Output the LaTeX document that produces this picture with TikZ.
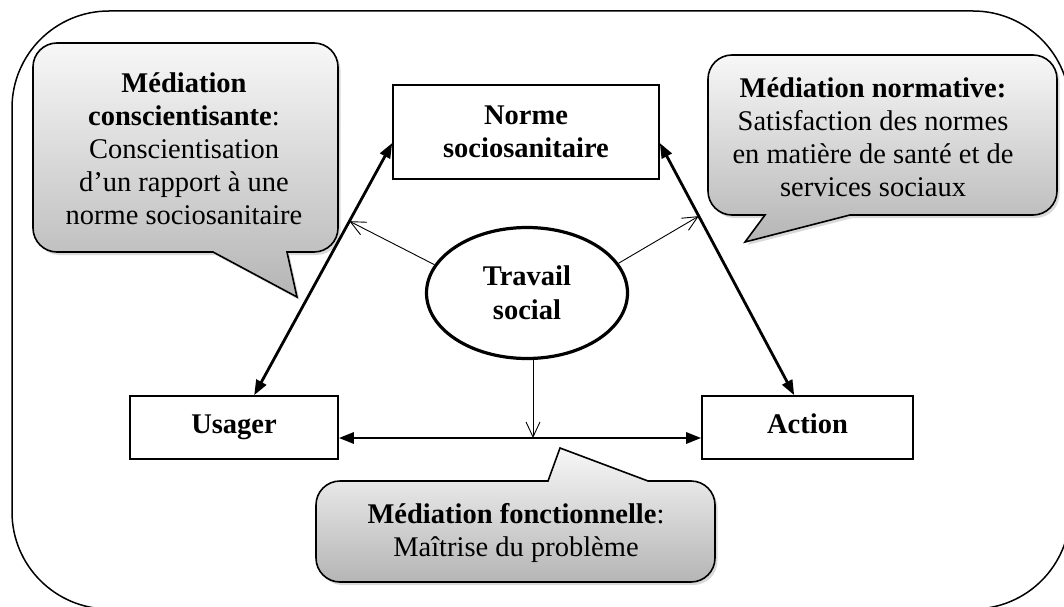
\documentclass[tikz,border=0pt]{standalone}
\usepackage{fontspec}
\setmainfont{Liberation Serif}
\usetikzlibrary{arrows.meta,calc,shadows,shapes.geometric}

\tikzset{
  txt/.style={font=\fontsize{28.5}{33}\selectfont, align=center, inner sep=0pt},
  conceptbox/.style={draw, line width=1.6pt, fill=white, inner sep=0pt,
    font=\fontsize{28.5}{33}\selectfont\bfseries, align=center},
  onelinebox/.style={conceptbox, text height=19pt, text depth=8pt},
  hub/.style={ellipse, draw, line width=3.2pt, fill=white, inner sep=0pt,
    font=\fontsize{28.5}{34}\selectfont\bfseries, align=center},
  bubble/.style={line width=1.6pt, top color=gray!6, bottom color=gray!58,
    drop shadow={shadow xshift=2.5pt, shadow yshift=-3pt, opacity=.3}},
  link/.style={line width=2.8pt, {Triangle[length=15pt,width=11pt]}-{Triangle[length=15pt,width=11pt]}},
  influence/.style={line width=0.9pt, -{Straight Barb[length=15pt,width=14pt]}},
}

\begin{document}
\begin{tikzpicture}[x=1pt,y=1pt]
\useasboundingbox (0,0) rectangle (1064,606);

% outer frame, partly cut by the page edge
\begin{scope}
  \clip (0,0) rectangle (1064,606);
  \draw[line width=1.5pt, rounded corners=97pt] (12,-3) rectangle (1070,595);
\end{scope}

% speech bubbles
\draw[bubble] (57,563) -- (314,563) arc[start angle=90,end angle=0,radius=24pt]
  -- (338,378) arc[start angle=0,end angle=-90,radius=24pt]
  -- (287,354) -- (297,309) -- (213,354)
  -- (57,354) arc[start angle=270,end angle=180,radius=24pt]
  -- (33,539) arc[start angle=180,end angle=90,radius=24pt] -- cycle;

\draw[bubble] (732,551) -- (1033,551) arc[start angle=90,end angle=0,radius=24pt]
  -- (1057,415) arc[start angle=0,end angle=-90,radius=24pt]
  -- (850,391) -- (745,364) -- (765,391)
  -- (732,391) arc[start angle=270,end angle=180,radius=24pt]
  -- (708,527) arc[start angle=180,end angle=90,radius=24pt] -- cycle;

\draw[bubble] (340,125) -- (548,125) -- (560,158) -- (648,125)
  -- (691,125) arc[start angle=90,end angle=0,radius=24pt]
  -- (715,48) arc[start angle=0,end angle=-90,radius=24pt]
  -- (340,24) arc[start angle=270,end angle=180,radius=24pt]
  -- (316,101) arc[start angle=180,end angle=90,radius=24pt] -- cycle;

\node[txt] (consc) at (184,457) {\textbf{Médiation}\\\textbf{conscientisante}:\\Conscientisation\\d’un rapport à une\\norme sociosanitaire};
\node[txt] (norma) at (873,469) {\textbf{Médiation normative:}\\Satisfaction des normes\\en matière de santé et de\\services sociaux};
\node[txt] (fonct) at (516,73) {\textbf{Médiation fonctionnelle}:\\Maîtrise du problème};

% concepts
\node[conceptbox, minimum width=266pt, minimum height=94pt] (norme) at (526,474) {Norme\\sociosanitaire};
\node[onelinebox, minimum width=208pt, minimum height=63pt] (usager) at (234,178.5) {Usager};
\node[onelinebox, minimum width=211pt, minimum height=63pt] (action) at (807.5,178.5) {Action};
\node[hub, minimum width=201pt, minimum height=131pt] (trav) at (527,313) {Travail\\social};

% relations
\coordinate (ul) at ($(usager.north west)+(125,0)$);
\coordinate (nl) at ($(norme.west)+(0,-11)$);
\coordinate (nr) at ($(norme.east)+(0,-11)$);
\coordinate (ar) at ($(action.north west)+(93,0)$);
\coordinate (hy) at (0,168);

\draw[link] (ul) -- (nl) coordinate[pos=0.69] (pl);
\draw[link] (nr) -- (ar) coordinate[pos=0.29] (pr);
\draw[link] (usager.east |- hy) -- (action.west |- hy);

\draw[influence] (trav.163) -- (pl);
\draw[influence] (trav.18) -- (pr);
\coordinate (vs) at ($(trav.south)+(6,0)$);
\draw[influence] (vs) -- (vs |- hy);
\end{tikzpicture}
\end{document}
